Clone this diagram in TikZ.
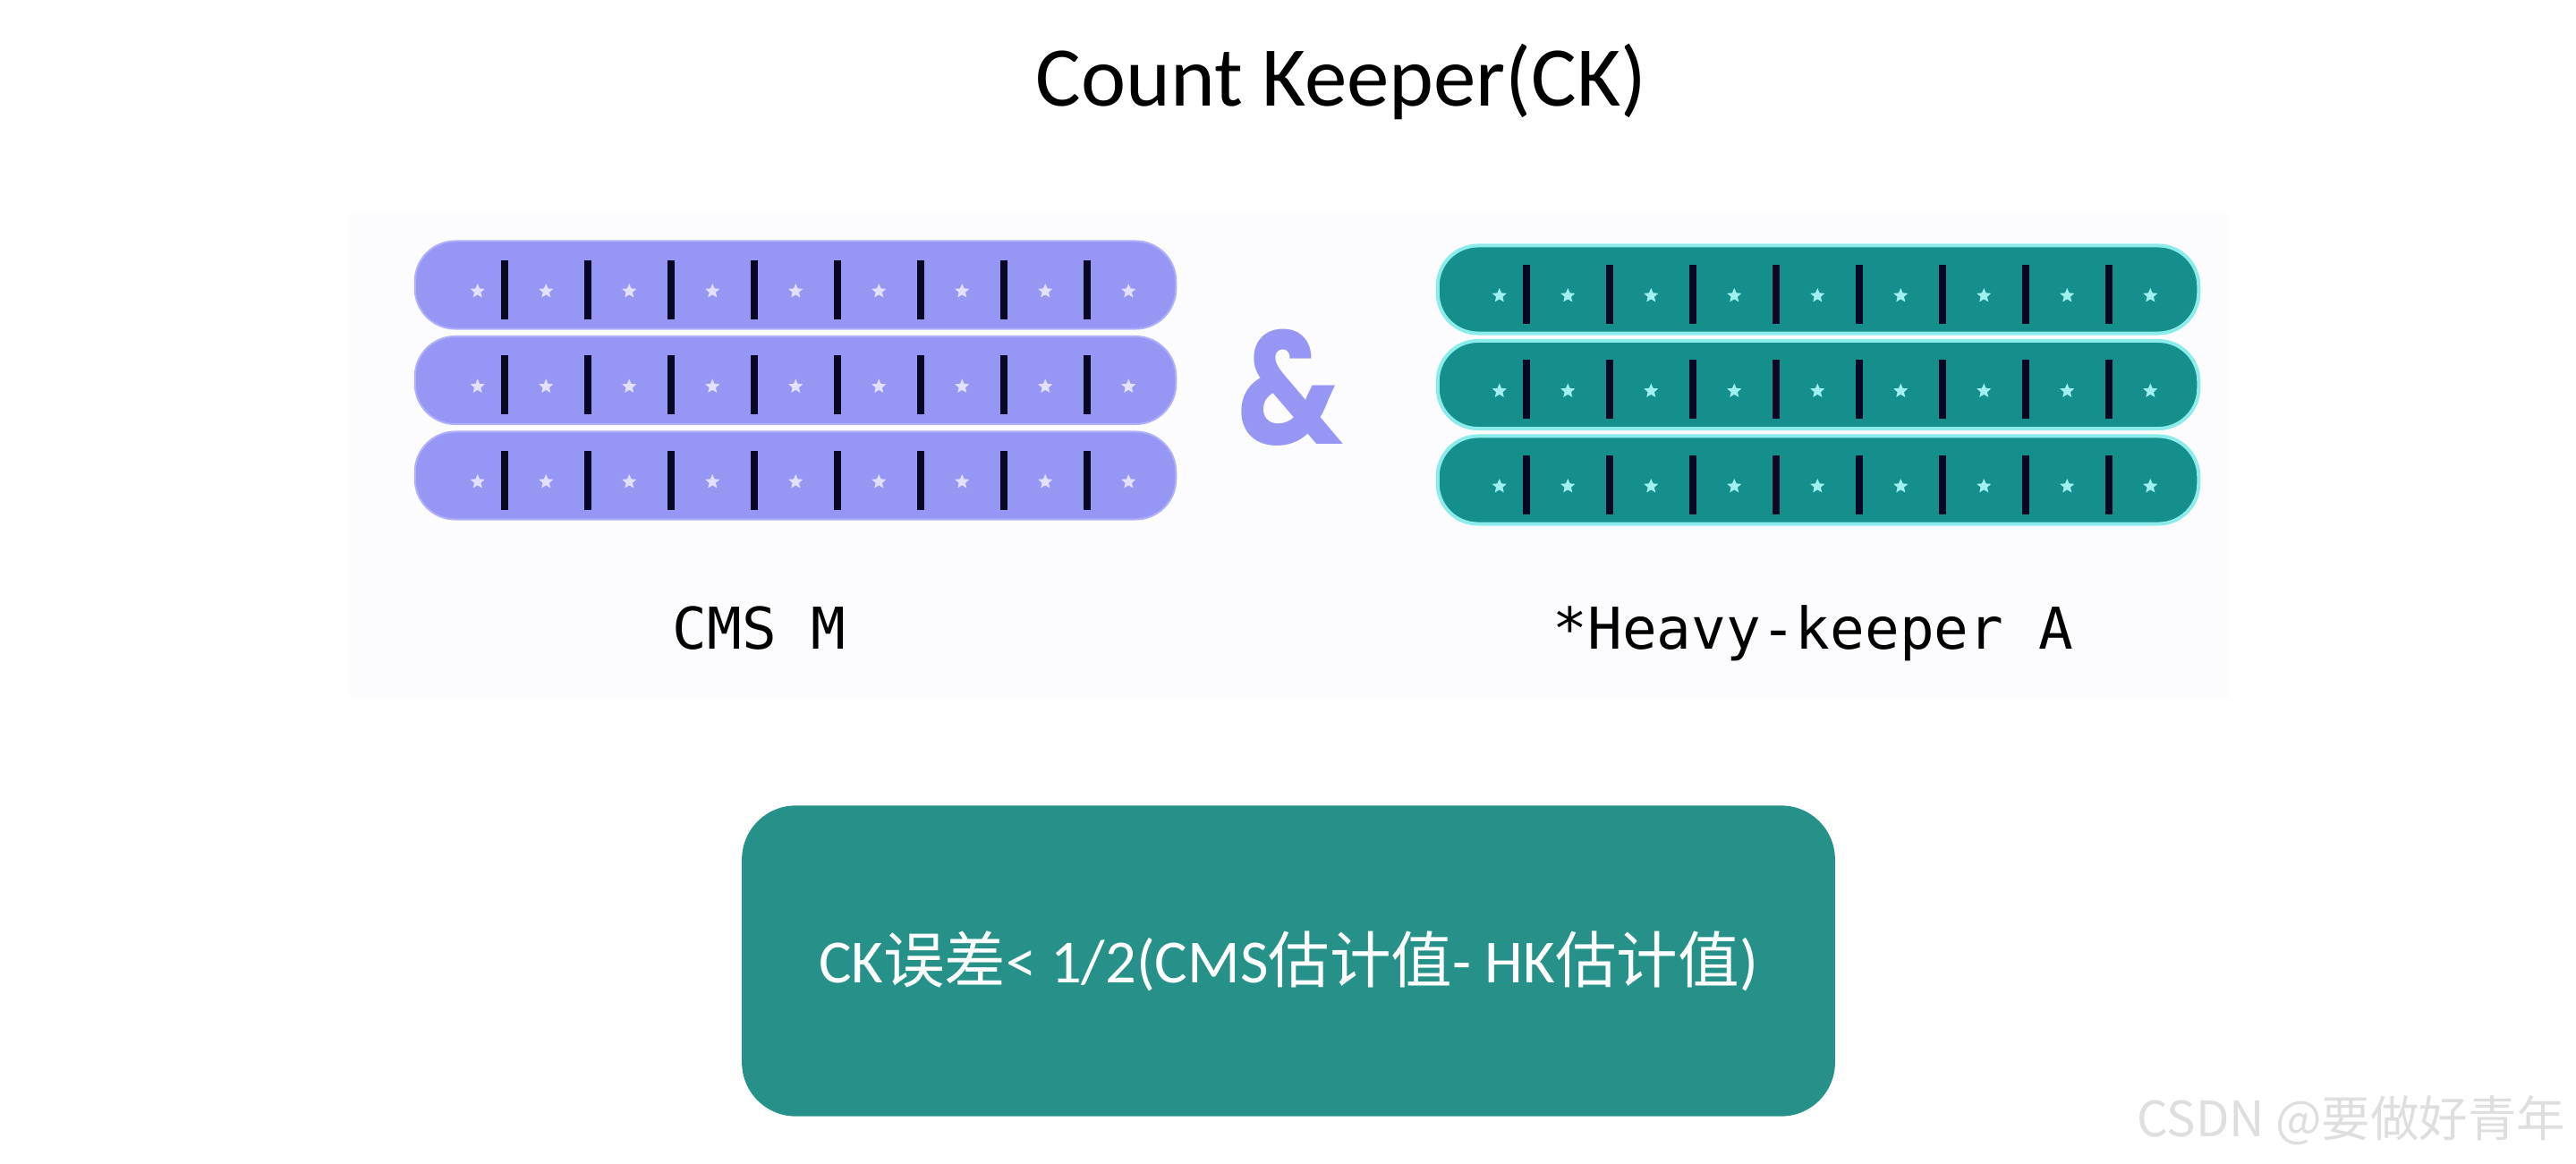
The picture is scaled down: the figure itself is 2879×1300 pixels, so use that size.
\documentclass[tikz,border=0pt]{standalone}
\usepackage{xcolor}
\usepackage{fontspec}
\setmainfont{Carlito}
\newfontfamily\cjkfont{Noto Sans CJK SC}
\newfontfamily\monofont{DejaVu Sans Mono}
\newfontfamily\ampfont{Poppins}
\usepackage{tikz}
\usetikzlibrary{shapes.geometric}

\definecolor{cmsblue}{RGB}{150,150,245}
\definecolor{cmsedge}{RGB}{175,175,250}
\definecolor{cmsstar}{RGB}{225,225,255}
\definecolor{hkteal}{RGB}{20,143,140}
\definecolor{hkglow}{RGB}{140,235,235}
\definecolor{hkstar}{RGB}{160,240,240}
\definecolor{barblack}{RGB}{8,8,36}
\definecolor{boxteal}{RGB}{38,145,137}
\definecolor{panelgray}{RGB}{252,252,254}
\definecolor{markgray}{RGB}{222,222,222}

\begin{document}
\begin{tikzpicture}[x=0.01cm, y=-0.01cm,
      row/.style={rectangle, rounded corners=0.45cm, minimum width=8.5cm, minimum height=0.98cm, inner sep=0pt},
      cmsrow/.style={row, fill=cmsblue, draw=cmsedge, line width=0.02cm},
      hkrow/.style={row, fill=hkteal, draw=hkglow, line width=0.04cm},
      bar/.style={draw=barblack, line width=0.08cm},
      starmark/.style={star, star points=5, star point ratio=2.2, minimum size=0.17cm, inner sep=0pt},
      ckbox/.style={rectangle, rounded corners=0.6cm, fill=boxteal, text=white, minimum width=12.21cm, minimum height=3.47cm, align=center}]
    \useasboundingbox (0,0) rectangle (2879,1300);
    \fill[panelgray] (391,239) rectangle (2490,780);

    \node[anchor=base] (title) at (1499,119) {\fontsize{27}{32}\selectfont Count Keeper(CK)};

    % three rows per sketch
    \foreach \r in {0,1,2} {
      \node[cmsrow] (cms\r) at (889,{318.5+106.5*\r}) {};
      \node[hkrow] (hk\r) at (2032,{323.5+106.5*\r}) {};
      \foreach \i in {0,...,7} {
        \draw[bar] ([shift={({101+93*\i},-28)}]cms\r.west) -- ([shift={({101+93*\i},38)}]cms\r.west);
        \draw[bar] ([shift={({101+93*\i},-28)}]hk\r.west) -- ([shift={({101+93*\i},38)}]hk\r.west);
      }
      \node[starmark, fill=cmsstar] (cs\r-0) at ([shift={(71,7)}]cms\r.west) {};
      \node[starmark, fill=hkstar] (hs\r-0) at ([shift={(71,7)}]hk\r.west) {};
      \foreach \i in {1,...,8} {
        \node[starmark, fill=cmsstar] (cs\r-\i) at ([shift={({54.5+93*\i},7)}]cms\r.west) {};
        \node[starmark, fill=hkstar] (hs\r-\i) at ([shift={({54.5+93*\i},7)}]hk\r.west) {};
      }
    }

    \node[anchor=base, text=cmsblue] (amp) at (1442,496) {\scalebox{0.83}[1]{\ampfont\bfseries\fontsize{51}{60}\selectfont\&}};

    \node[anchor=base west, inner sep=0pt] (cmslabel) at (751,725) {\monofont\fontsize{18.3}{22}\selectfont CMS M};
    \node[anchor=base west, inner sep=0pt] (hklabel) at (1735,725) {\monofont\fontsize{18.3}{22}\selectfont *Heavy-keeper A};

    \node[ckbox] (ck) at (1440,1074) {\fontsize{19.5}{23}\selectfont CK{\cjkfont 误差}< 1/2(CMS{\cjkfont 估计值}- HK{\cjkfont 估计值})};

    \node[anchor=base east, text=markgray, inner sep=0pt] (mark) at (2868,1270) {\cjkfont\fontsize{15.5}{18}\selectfont CSDN @要做好青年};
  \end{tikzpicture}
\end{document}
